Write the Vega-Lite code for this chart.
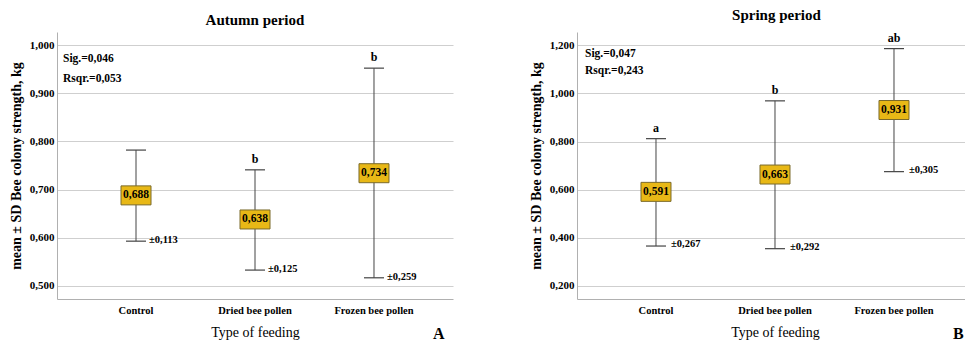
{
  "$schema": "https://vega.github.io/schema/vega-lite/v6.json",
  "padding": {"left": 9, "top": 7, "right": 0, "bottom": 0},
  "background": "white",
  "config": {
    "view": {"stroke": null},
    "font": "Liberation Serif, DejaVu Serif, serif",
    "axis": {"labelFont": "Liberation Serif, DejaVu Serif, serif", "titleFont": "Liberation Serif, DejaVu Serif, serif", "labelColor": "black", "titleColor": "black"},
    "title": {"font": "Liberation Serif, DejaVu Serif, serif", "fontSize": 15, "fontWeight": "bold", "color": "black"},
    "text": {"font": "Liberation Serif, DejaVu Serif, serif"},
    "concat": {"spacing": 76}
  },
  "datasets": {
    "autumn": [
      {"group": "Control", "mean": 0.688, "lo": 0.593, "hi": 0.782, "label": "0,688", "sd": "±0,113", "letter": ""},
      {"group": "Dried bee pollen", "mean": 0.638, "lo": 0.533, "hi": 0.741, "label": "0,638", "sd": "±0,125", "letter": "b"},
      {"group": "Frozen bee pollen", "mean": 0.734, "lo": 0.517, "hi": 0.952, "label": "0,734", "sd": "±0,259", "letter": "b"}
    ],
    "spring": [
      {"group": "Control", "mean": 0.591, "lo": 0.366, "hi": 0.812, "label": "0,591", "sd": "±0,267", "letter": "a"},
      {"group": "Dried bee pollen", "mean": 0.663, "lo": 0.355, "hi": 0.969, "label": "0,663", "sd": "±0,292", "letter": "b"},
      {"group": "Frozen bee pollen", "mean": 0.931, "lo": 0.675, "hi": 1.186, "label": "0,931", "sd": "±0,305", "letter": "ab"}
    ],
    "autumnNotes": [
      {"group": "Control", "y": 0.971, "text": "Sig.=0,046"},
      {"group": "Control", "y": 0.929, "text": "Rsqr.=0,053"}
    ],
    "springNotes": [
      {"group": "Control", "y": 1.164, "text": "Sig.=0,047"},
      {"group": "Control", "y": 1.093, "text": "Rsqr.=0,243"}
    ],
    "autumnTag": [{"group": "Frozen bee pollen", "y": 0.4004, "text": "A"}],
    "springTag": [{"group": "Frozen bee pollen", "y": 0.0006, "text": "B"}]
  },
  "hconcat": [
    {
      "width": 396,
      "height": 267,
      "title": {"text": "Autumn period", "offset": 4},
      "encoding": {
        "x": {
          "field": "group", "type": "nominal", "sort": null,
          "scale": {"type": "band", "domain": ["Control", "Dried bee pollen", "Frozen bee pollen"], "paddingInner": 0, "paddingOuter": 0.1639, "align": 0.5},
          "axis": {"title": "Type of feeding", "titleFontSize": 14, "titleFontWeight": "normal", "titlePadding": 10, "labelAngle": 0, "labelFontSize": 10.5, "labelFontWeight": "bold", "labelPadding": 6, "ticks": false, "domainColor": "#b0b0b0", "grid": false}
        },
        "y": {
          "type": "quantitative",
          "scale": {"domain": [0.473, 1.027], "nice": false, "zero": false},
          "axis": {"title": "mean ± SD Bee colony strength, kg", "titleFontSize": 14, "titleFontWeight": "bold", "titlePadding": 6, "values": [0.5, 0.6, 0.7, 0.8, 0.9, 1.0], "labelExpr": "replace(format(datum.value, '.3f'), '.', ',')", "labelFontSize": 11, "labelFontWeight": "bold", "labelPadding": 3, "ticks": false, "domainColor": "#b0b0b0", "gridColor": "#cfcfcf", "gridWidth": 1.2}
        }
      },
      "layer": [
        {"data": {"name": "autumn"}, "mark": {"type": "rule", "color": "#444444", "strokeWidth": 1}, "encoding": {"y": {"field": "lo"}, "y2": {"field": "hi"}}},
        {"data": {"name": "autumn"}, "mark": {"type": "tick", "color": "#444444", "size": 20, "thickness": 1.2, "opacity": 1}, "encoding": {"y": {"field": "hi"}}},
        {"data": {"name": "autumn"}, "mark": {"type": "tick", "color": "#444444", "size": 20, "thickness": 1.2, "opacity": 1}, "encoding": {"y": {"field": "lo"}}},
        {"data": {"name": "autumn"}, "mark": {"type": "point", "shape": "M-1,-0.633L1,-0.633L1,0.633L-1,0.633Z", "size": 900, "filled": true, "fill": "#E8B816", "stroke": "#7a6a2a", "strokeWidth": 1, "opacity": 1}, "encoding": {"y": {"field": "mean"}}},
        {"data": {"name": "autumn"}, "mark": {"type": "text", "fontSize": 11.5, "fontWeight": "bold", "color": "black", "baseline": "middle"}, "encoding": {"y": {"field": "mean"}, "text": {"field": "label"}}},
        {"data": {"name": "autumn"}, "mark": {"type": "text", "fontSize": 10.5, "fontWeight": "bold", "color": "black", "align": "left", "baseline": "middle", "dx": 13, "dy": -1}, "encoding": {"y": {"field": "lo"}, "text": {"field": "sd"}}},
        {"data": {"name": "autumn"}, "mark": {"type": "text", "fontSize": 12, "fontWeight": "bold", "color": "black", "baseline": "bottom", "dy": -4}, "encoding": {"y": {"field": "hi"}, "text": {"field": "letter"}}},
        {"data": {"name": "autumnNotes"}, "mark": {"type": "text", "fontSize": 11.5, "fontWeight": "bold", "color": "black", "align": "left", "baseline": "middle", "dx": -73}, "encoding": {"y": {"field": "y"}, "text": {"field": "text"}}},
        {"data": {"name": "autumnTag"}, "mark": {"type": "text", "fontSize": 16, "fontWeight": "bold", "color": "black", "align": "left", "baseline": "middle", "dx": 59}, "encoding": {"y": {"field": "y"}, "text": {"field": "text"}}}
      ]
    },
    {
      "width": 389,
      "height": 267,
      "title": {"text": "Spring period", "offset": 9, "dx": 5},
      "encoding": {
        "x": {
          "field": "group", "type": "nominal", "sort": null,
          "scale": {"type": "band", "domain": ["Control", "Dried bee pollen", "Frozen bee pollen"], "paddingInner": 0, "paddingOuter": 0.1345, "align": 0.609},
          "axis": {"title": "Type of feeding", "titleX": 198, "titleFontSize": 14, "titleFontWeight": "normal", "titlePadding": 10, "labelAngle": 0, "labelFontSize": 10.5, "labelFontWeight": "bold", "labelPadding": 6, "ticks": false, "domainColor": "#b0b0b0", "grid": false}
        },
        "y": {
          "type": "quantitative",
          "scale": {"domain": [0.146, 1.255], "nice": false, "zero": false},
          "axis": {"title": "mean ± SD Bee colony strength, kg", "titleFontSize": 14, "titleFontWeight": "bold", "titlePadding": 6, "values": [0.2, 0.4, 0.6, 0.8, 1.0, 1.2], "labelExpr": "replace(format(datum.value, '.3f'), '.', ',')", "labelFontSize": 11, "labelFontWeight": "bold", "labelPadding": 3, "ticks": false, "domainColor": "#b0b0b0", "gridColor": "#cfcfcf", "gridWidth": 1.2}
        }
      },
      "layer": [
        {"data": {"name": "spring"}, "mark": {"type": "rule", "color": "#444444", "strokeWidth": 1}, "encoding": {"y": {"field": "lo"}, "y2": {"field": "hi"}}},
        {"data": {"name": "spring"}, "mark": {"type": "tick", "color": "#444444", "size": 20, "thickness": 1.2, "opacity": 1}, "encoding": {"y": {"field": "hi"}}},
        {"data": {"name": "spring"}, "mark": {"type": "tick", "color": "#444444", "size": 20, "thickness": 1.2, "opacity": 1}, "encoding": {"y": {"field": "lo"}}},
        {"data": {"name": "spring"}, "mark": {"type": "point", "shape": "M-1,-0.633L1,-0.633L1,0.633L-1,0.633Z", "size": 900, "filled": true, "fill": "#E8B816", "stroke": "#7a6a2a", "strokeWidth": 1, "opacity": 1}, "encoding": {"y": {"field": "mean"}}},
        {"data": {"name": "spring"}, "mark": {"type": "text", "fontSize": 11.5, "fontWeight": "bold", "color": "black", "baseline": "middle"}, "encoding": {"y": {"field": "mean"}, "text": {"field": "label"}}},
        {"data": {"name": "spring"}, "mark": {"type": "text", "fontSize": 10.5, "fontWeight": "bold", "color": "black", "align": "left", "baseline": "middle", "dx": 15, "dy": -2}, "encoding": {"y": {"field": "lo"}, "text": {"field": "sd"}}},
        {"data": {"name": "spring"}, "mark": {"type": "text", "fontSize": 12, "fontWeight": "bold", "color": "black", "baseline": "bottom", "dy": -4}, "encoding": {"y": {"field": "hi"}, "text": {"field": "letter"}}},
        {"data": {"name": "springNotes"}, "mark": {"type": "text", "fontSize": 11.5, "fontWeight": "bold", "color": "black", "align": "left", "baseline": "middle", "dx": -71}, "encoding": {"y": {"field": "y"}, "text": {"field": "text"}}},
        {"data": {"name": "springTag"}, "mark": {"type": "text", "fontSize": 16, "fontWeight": "bold", "color": "black", "align": "left", "baseline": "middle", "dx": 59}, "encoding": {"y": {"field": "y"}, "text": {"field": "text"}}}
      ]
    }
  ]
}
